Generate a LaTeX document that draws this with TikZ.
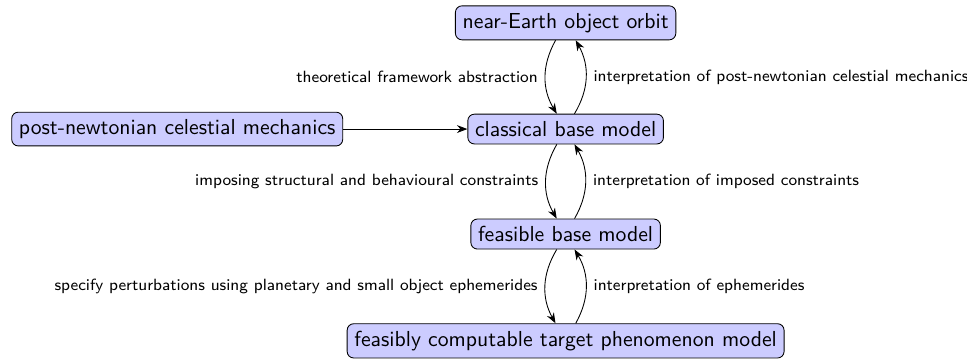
\documentclass[tikz,border=0pt]{standalone}
\usepackage{amsmath, amssymb}
\usepackage{xcolor}
\usepackage{tikz}
\usetikzlibrary{positioning,shapes,arrows.meta}
\renewcommand{\familydefault}{\sfdefault}

\begin{document}
\begin{tikzpicture}[
            >=Stealth,
            model/.style={rectangle, rounded corners=3pt, draw=black, fill=blue!20},
            lbl/.style={font=\fontsize{7.5}{9}\selectfont}
        ]
            \useasboundingbox (0,0) rectangle (15.66,-5.80);
            \begin{scope}[
                every node/.style={model}
            ]
                % Models
                \node (orbit)    at (9.16,-0.37) {near-Earth object orbit};
                \node (classic)  at (9.16,-2.09) {classical base model};
                \node (feasible) at (9.16,-3.79) {feasible base model};
                \node (target)   at (9.16,-5.52) {feasibly computable target phenomenon model};
                \node (pn)       at (2.87,-2.09) {post-newtonian celestial mechanics};
            \end{scope}
            % Abstractions (down) and interpretations (up)
            \draw[->] (orbit) to[bend right] node[lbl, left] {theoretical framework abstraction} (classic);
            \draw[->] (classic) to[bend right] node[lbl, right] {interpretation of post-newtonian celestial mechanics} (orbit);
            \draw[->] (classic) to[bend right] node[lbl, left] {imposing structural and behavioural constraints} (feasible);
            \draw[->] (feasible) to[bend right] node[lbl, right] {interpretation of imposed constraints} (classic);
            \draw[->] (feasible) to[bend right] node[lbl, left] {specify perturbations using planetary and small object ephemerides} (target);
            \draw[->] (target) to[bend right] node[lbl, right] {interpretation of ephemerides} (feasible);
            % Input theory
            \draw[->] (pn) -- (classic);
        \end{tikzpicture}
\end{document}
